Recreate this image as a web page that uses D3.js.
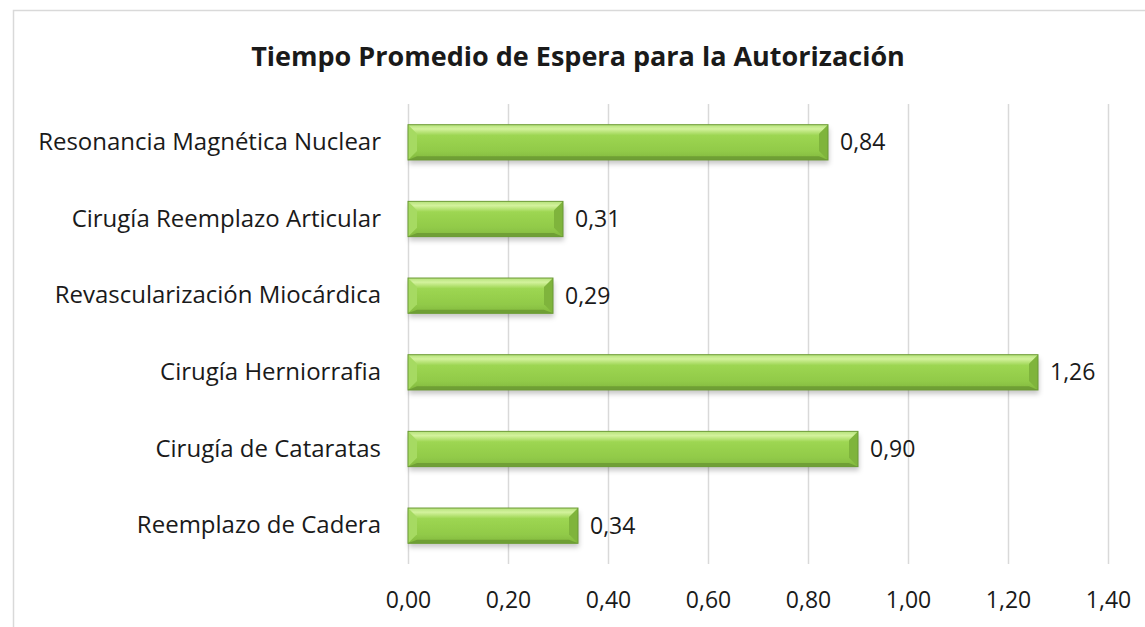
<!DOCTYPE html>
<html lang="en">
<head>
  <meta charset="UTF-8" />
  <title>Tiempo Promedio de Espera</title>
  <script src="https://d3js.org/d3.v7.min.js"></script>
  <style>
    html, body { margin: 0; padding: 0; background: #fff; }
    svg { display: block; font-family: "Open Sans", sans-serif; }
    .grid line { stroke: #d9d9d9; stroke-width: 1.5px; }
    .cat text { fill: #1a1a1a; font-size: 24px; }
    .tick-lbl text, .val { fill: #1a1a1a; font-size: 23px; }
    .title { font-size: 27px; font-weight: 700; fill: #1a1a1a; }
  </style>
</head>
<body>
  <svg id="chart" width="1145" height="627"></svg>
  <script>
    // data, top to bottom as in the picture
    const categories = [
      'Resonancia Magnética Nuclear',
      'Cirugía Reemplazo Articular',
      'Revascularización Miocárdica',
      'Cirugía Herniorrafia',
      'Cirugía de Cataratas',
      'Reemplazo de Cadera'
    ];
    const values = [0.84, 0.31, 0.29, 1.26, 0.90, 0.34];
    const tickValues = [0, 0.2, 0.4, 0.6, 0.8, 1.0, 1.2, 1.4];

    const W = 1145, H = 627;
    const m = { left: 408, right: 37, top: 104, bottom: 63 };
    const fmt = v => d3.format('.2f')(v).replace('.', ',');

    const svg = d3.select('#chart');
    const defs = svg.append('defs');

    const grad = defs.append('linearGradient').attr('id', 'barGrad')
      .attr('x1', 0).attr('y1', 0).attr('x2', 0).attr('y2', 1);
    [['0%', '#b5e27a'], ['12%', '#d3f29d'], ['30%', '#9dd652'], ['75%', '#91ca48'], ['100%', '#82b83e']]
      .forEach(([o, c]) => grad.append('stop').attr('offset', o).attr('stop-color', c));

    const shadow = defs.append('filter').attr('id', 'shadow')
      .attr('x', '-5%').attr('y', '-20%').attr('width', '110%').attr('height', '160%');
    shadow.append('feDropShadow').attr('dx', 1).attr('dy', 4).attr('stdDeviation', 2.5)
      .attr('flood-color', '#000').attr('flood-opacity', 0.22);

    // chart frame
    svg.append('rect').attr('x', 13.5).attr('y', 10.5).attr('width', W).attr('height', H)
      .attr('fill', '#fff').attr('stroke', '#d9d9d9').attr('stroke-width', 1.5);

    const x = d3.scaleLinear().domain([0, 1.4]).range([m.left, W - m.right]);
    const y = d3.scaleBand().domain(categories).range([m.top, H - m.bottom]).paddingInner(0.54).paddingOuter(0.27);

    svg.append('text').attr('class', 'title').attr('x', 578).attr('y', 66)
      .attr('text-anchor', 'middle').text('Tiempo Promedio de Espera para la Autorización');

    const clean = g => {
      g.attr('font-size', null).attr('font-family', null);
      g.select('.domain').remove();
    };

    // vertical gridlines
    svg.append('g').attr('class', 'grid')
      .attr('transform', `translate(0,${H - m.bottom})`)
      .call(d3.axisBottom(x).tickValues(tickValues).tickSize(-(H - m.top - m.bottom)).tickFormat(''))
      .call(clean);

    // tick labels
    svg.append('g').attr('class', 'tick-lbl')
      .attr('transform', `translate(0,${H - m.bottom})`)
      .call(d3.axisBottom(x).tickValues(tickValues).tickSize(0).tickPadding(28).tickFormat(fmt))
      .call(clean);

    // category labels
    svg.append('g').attr('class', 'cat')
      .attr('transform', `translate(${m.left},0)`)
      .call(d3.axisLeft(y).tickSize(0).tickPadding(27))
      .call(clean);

    // bars with bevel
    const bh = y.bandwidth(), bev = 9;
    const bars = svg.append('g').selectAll('g').data(values).join('g')
      .attr('transform', (d, i) => `translate(${x(0)},${y(categories[i])})`);
    bars.append('rect').attr('width', d => x(d) - x(0)).attr('height', bh)
      .attr('fill', 'url(#barGrad)').attr('filter', 'url(#shadow)');
    // left bevel
    bars.append('path').attr('d', `M0,0 L${bev},${bev} L${bev},${bh - bev} L0,${bh} Z`).attr('fill', '#a6da62');
    // right bevel
    bars.append('path').attr('d', d => {
      const w = x(d) - x(0);
      return `M${w},0 L${w - bev},${bev} L${w - bev},${bh - bev} L${w},${bh} Z`;
    }).attr('fill', '#7fb43c');
    // bottom bevel
    bars.append('path').attr('d', d => {
      const w = x(d) - x(0);
      return `M0,${bh} L${bev},${bh - bev * 0.4} L${w - bev},${bh - bev * 0.4} L${w},${bh} Z`;
    }).attr('fill', '#6f9f35');
    bars.append('rect').attr('width', d => x(d) - x(0)).attr('height', bh)
      .attr('fill', 'none').attr('stroke', '#6b9a34').attr('stroke-width', 1);

    // value labels
    bars.append('text').attr('class', 'val')
      .attr('x', d => x(d) - x(0) + 12).attr('y', bh / 2).attr('dy', '0.35em')
      .text(fmt);
  </script>
</body>
</html>
